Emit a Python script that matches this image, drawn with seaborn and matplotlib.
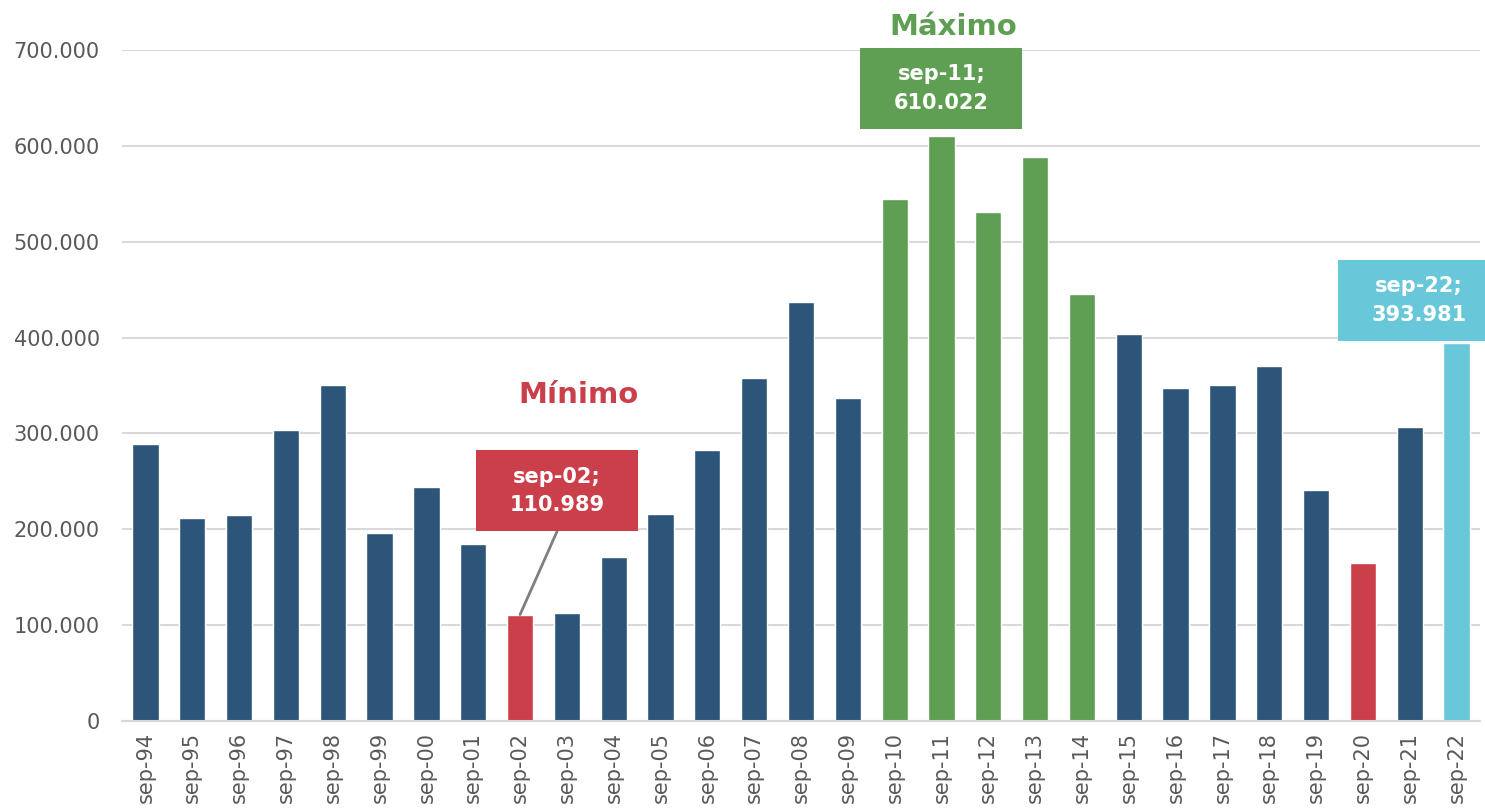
import matplotlib
matplotlib.use("Agg")
import matplotlib.pyplot as plt
import seaborn as sns
import pandas as pd
from matplotlib.patches import Rectangle

sns.set_style("white")
plt.rcParams['font.family'] = ['DejaVu Sans']

# Data
periods = ['sep-94', 'sep-95', 'sep-96', 'sep-97', 'sep-98', 'sep-99', 'sep-00', 'sep-01',
           'sep-02', 'sep-03', 'sep-04', 'sep-05', 'sep-06', 'sep-07', 'sep-08', 'sep-09',
           'sep-10', 'sep-11', 'sep-12', 'sep-13', 'sep-14', 'sep-15', 'sep-16', 'sep-17',
           'sep-18', 'sep-19', 'sep-20', 'sep-21', 'sep-22']
values = [289000, 212000, 215000, 304000, 351000, 196000, 244000, 185000,
          110989, 113000, 171000, 216000, 283000, 358000, 437000, 337000,
          545000, 610022, 531000, 588000, 445000, 404000, 347000, 350000,
          370000, 241000, 165000, 307000, 393981]
group = ['normal'] * 8 + ['low'] + ['normal'] * 7 + ['high'] * 5 + ['normal'] * 5 + ['low', 'normal', 'last']

palette = {'normal': '#2D5579', 'low': '#CB3F4A', 'high': '#5E9F53', 'last': '#69C7DA'}
grey = '#595959'

df = pd.DataFrame({'period': periods, 'value': values, 'group': group})

fig = plt.figure(figsize=(14.85, 8.09), dpi=100)
ax = fig.add_axes([0.0822, 0.1088, 0.9144, 0.8294])

sns.barplot(data=df, x='period', y='value', hue='group', palette=palette,
            dodge=False, legend=False, width=0.56, ax=ax, saturation=1)

ax.set_ylim(0, 700000)
ax.set_xlim(-0.5, 28.5)
ax.set_yticks(range(0, 700001, 100000))
ax.set_yticklabels(['0' if v == 0 else f'{v:,}'.replace(',', '.') for v in range(0, 700001, 100000)],
                   fontsize=15, color=grey)
ax.set_xticks(range(len(periods)))
ax.set_xticklabels(periods, rotation=90, fontsize=15, color=grey)
ax.tick_params(axis='x', length=0, pad=8)
ax.tick_params(axis='y', length=0, pad=16)
ax.set_xlabel('')
ax.set_ylabel('')
ax.yaxis.grid(True, color='#D9D9D9', linewidth=1.5)
ax.set_axisbelow(True)
for s in ['left', 'right', 'top']:
    ax.spines[s].set_visible(False)
ax.spines['bottom'].set_color('#D9D9D9')
ax.spines['bottom'].set_linewidth(1.5)


def label_box(cx, cy, text, color, w=3.46, h=84500):
    ax.add_patch(Rectangle((cx - w / 2, cy - h / 2), w, h, facecolor=color,
                           edgecolor='none', clip_on=False, zorder=5))
    ax.text(cx, cy, text, ha='center', va='center', color='white', fontsize=15,
            fontweight='bold', linespacing=1.55, zorder=6, clip_on=False)


# minimum
i_min = periods.index('sep-02')
label_box(i_min + 0.79, 240000, f"sep-02;\n{values[i_min] / 1000:.3f}", palette['low'])
ax.plot([i_min + 0.79, i_min], [240000 - 84500 / 2, values[i_min]], color='#7F7F7F', lw=2, zorder=4)
ax.text(i_min + 1.25, 340000, 'Mínimo', color=palette['low'], fontsize=21,
        fontweight='bold', ha='center', va='center')

# maximum
i_max = periods.index('sep-11')
label_box(i_max, 660000, f"sep-11;\n{values[i_max] / 1000:.3f}", palette['high'])
ax.text(i_max + 0.25, 724000, 'Máximo', color=palette['high'], fontsize=21,
        fontweight='bold', ha='center', va='center', clip_on=False)

# last
i_last = periods.index('sep-22')
label_box(i_last - 0.8, 439000, f"sep-22;\n{values[i_last] / 1000:.3f}", palette['last'])

fig.savefig('out.png', dpi=100)
